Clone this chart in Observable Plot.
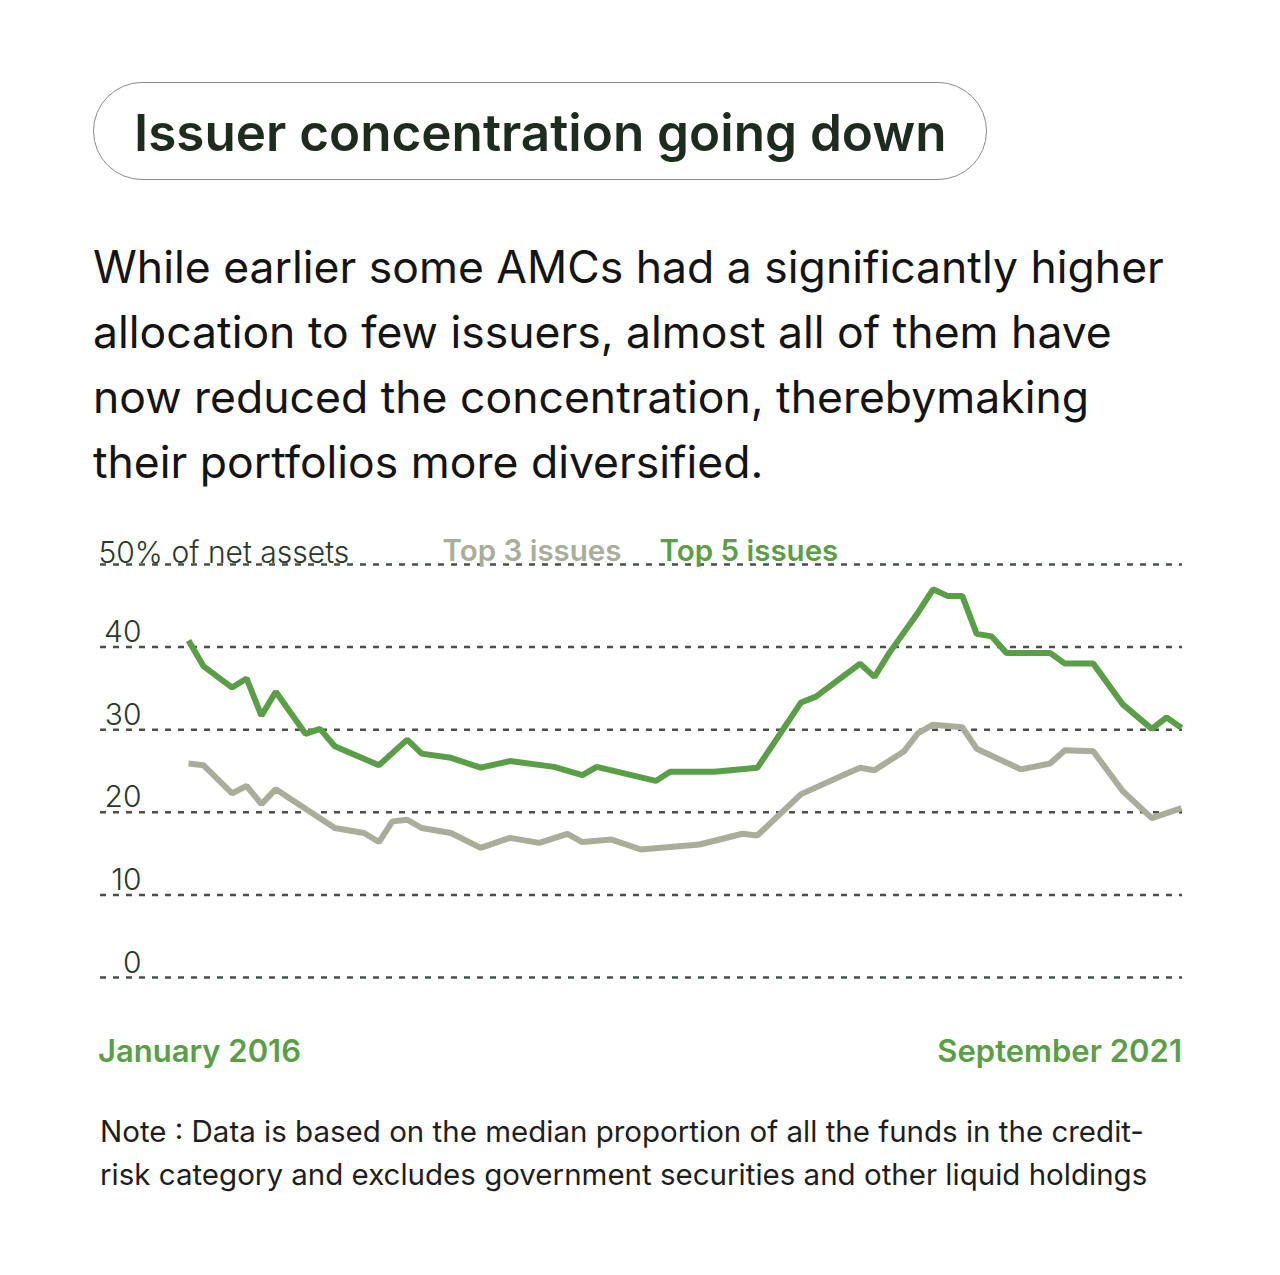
<!DOCTYPE html>
<html><head><meta charset="utf-8">
<script src="https://cdn.jsdelivr.net/npm/d3@7"></script>
<script src="https://cdn.jsdelivr.net/npm/@observablehq/plot@0.6"></script>
<style>
html,body{margin:0;padding:0;background:#fff;}
body{width:1280px;height:1275px;position:relative;overflow:hidden;font-family:Inter,"Noto Sans",sans-serif;}
.pill{position:absolute;left:93px;top:82px;width:892px;height:96px;border:1px solid #8a8a8a;border-radius:49px;box-sizing:content-box;}
.t{position:absolute;white-space:nowrap;margin:0;}
#title{left:134px;top:107px;font-size:51.2px;line-height:51px;font-weight:600;color:#1d2c1e;}
#sub{left:93px;top:235px;font-size:44.5px;line-height:65px;font-weight:400;color:#141414;white-space:normal;width:1150px;}
#chart{position:absolute;left:0;top:500px;}
.xl{top:1035px;font-size:31px;line-height:31px;font-weight:600;color:#5a9e47;}
#xl0{left:98px;}
#xl1{right:98px;}
#note{left:100px;top:1110px;font-family:Inter,sans-serif;font-size:29.5px;line-height:43px;font-weight:400;color:#1e1e1e;white-space:normal;width:1150px;}
</style>
</head><body>
<div class="pill"></div>
<h1 class="t" id="title"></h1>
<p class="t" id="sub"></p>
<div id="chart"></div>
<div class="t xl" id="xl0"></div>
<div class="t xl" id="xl1"></div>
<p class="t" id="note"></p>
<script>
const titleText = "Issuer concentration going down";
const subtitleLines = [
  "While earlier some AMCs had a significantly higher",
  "allocation to few issuers, almost all of them have",
  "now reduced the concentration, therebymaking",
  "their portfolios more diversified."
];
const noteLines = [
  "Note : Data is based on the median proportion of all the funds in the credit-",
  "risk category and excludes government securities and other liquid holdings"
];
const xLabels = ["January 2016", "September 2021"];
const yTicks = [0, 10, 20, 30, 40];
const yTopTick = 50;
const yTopLabel = "50% of net assets";
const seriesNames = ["Top 3 issues", "Top 5 issues"];

// Top 5 issues (% of net assets), monthly turning points
const top5Months = ["2016-01","2016-02","2016-04","2016-05","2016-06","2016-07","2016-09","2016-10","2016-11",
  "2017-02","2017-04","2017-05","2017-07","2017-09","2017-11","2018-02","2018-04","2018-05","2018-09","2018-10",
  "2019-01","2019-04","2019-07","2019-08","2019-11","2019-12","2020-01","2020-03","2020-04","2020-05","2020-06",
  "2020-07","2020-08","2020-09","2020-12","2021-01","2021-03","2021-05","2021-07","2021-08","2021-09"];
const top5Values = [40.8,37.7,35.1,36.2,31.7,34.6,29.5,30.1,28.0,
  25.7,28.8,27.1,26.6,25.4,26.2,25.5,24.5,25.5,23.8,24.9,
  24.9,25.4,33.3,34.0,38.0,36.4,39.3,44.2,47.0,46.2,46.2,
  41.6,41.3,39.3,39.3,38.0,38.0,33.1,30.1,31.5,30.2];

// Top 3 issues (% of net assets)
const top3Months = ["2016-01","2016-02","2016-04","2016-05","2016-06","2016-07","2016-11","2017-01","2017-02",
  "2017-03","2017-04","2017-05","2017-07","2017-09","2017-11","2018-01","2018-03","2018-04","2018-06","2018-08",
  "2018-12","2019-03","2019-04","2019-07","2019-10","2019-11","2019-12","2020-02","2020-03","2020-04","2020-06",
  "2020-07","2020-10","2020-12","2021-01","2021-03","2021-05","2021-07","2021-09"];
const top3Values = [25.9,25.7,22.3,23.2,21.0,22.8,18.1,17.5,16.4,
  18.9,19.1,18.1,17.5,15.7,16.9,16.3,17.4,16.4,16.7,15.5,
  16.1,17.4,17.2,22.2,24.6,25.4,25.1,27.4,29.6,30.6,30.3,
  27.7,25.2,25.9,27.5,27.4,22.6,19.3,20.5];

const GREEN = "#5a9e47", GREY = "#a9ad99", GRID = "#4a4f4c", INK = "#2a372b";
const parse = d3.utcParse("%Y-%m");
const top5 = top5Months.map((m, i) => ({date: parse(m), value: top5Values[i]}));
const top3 = top3Months.map((m, i) => ({date: parse(m), value: top3Values[i]}));

document.getElementById("title").textContent = titleText;
document.getElementById("sub").innerHTML = subtitleLines.join("<br>");
document.getElementById("note").innerHTML = noteLines.join("<br>");
document.getElementById("xl0").textContent = xLabels[0];
document.getElementById("xl1").textContent = xLabels[1];

const labelFont = {fontFamily: "Inter, sans-serif", fontSize: 30, fontWeight: 300};
const legendFont = {fontFamily: "Inter, sans-serif", fontSize: 29.5, fontWeight: 600};
const chart = Plot.plot({
  width: 1280, height: 520,
  marginLeft: 100, marginRight: 98, marginTop: 0, marginBottom: 0,
  style: {background: "transparent", overflow: "visible"},
  x: {type: "utc", domain: [parse("2016-01"), parse("2021-09")], range: [188, 1181], axis: null},
  y: {domain: [0, 50], range: [477, 64], axis: null},
  marks: [
    Plot.ruleY([...yTicks, yTopTick], {stroke: GRID, strokeWidth: 2.5, strokeDasharray: "6,7"}),
    Plot.text(yTicks, {y: d => d, text: d => String(d), frameAnchor: "left", textAnchor: "end", lineAnchor: "bottom",
      dx: 41, dy: -5, fill: INK, ...labelFont}),
    Plot.text([yTopTick], {y: d => d, text: () => yTopLabel, frameAnchor: "left", textAnchor: "start", lineAnchor: "bottom",
      dx: -2, dy: -2, fill: INK, ...labelFont}),
    Plot.text([yTopTick], {y: d => d, text: () => seriesNames[0], frameAnchor: "left", textAnchor: "start", lineAnchor: "bottom",
      dx: 342, dy: -4, fill: GREY, ...legendFont}),
    Plot.text([yTopTick], {y: d => d, text: () => seriesNames[1], frameAnchor: "left", textAnchor: "start", lineAnchor: "bottom",
      dx: 559, dy: -4, fill: GREEN, ...legendFont}),
    Plot.line(top3, {x: "date", y: "value", stroke: GREY, strokeWidth: 6, strokeLinejoin: "miter", strokeLinecap: "butt"}),
    Plot.line(top5, {x: "date", y: "value", stroke: GREEN, strokeWidth: 6, strokeLinejoin: "miter", strokeLinecap: "butt"})
  ]
});
document.getElementById("chart").appendChild(chart);
</script>
</body></html>
